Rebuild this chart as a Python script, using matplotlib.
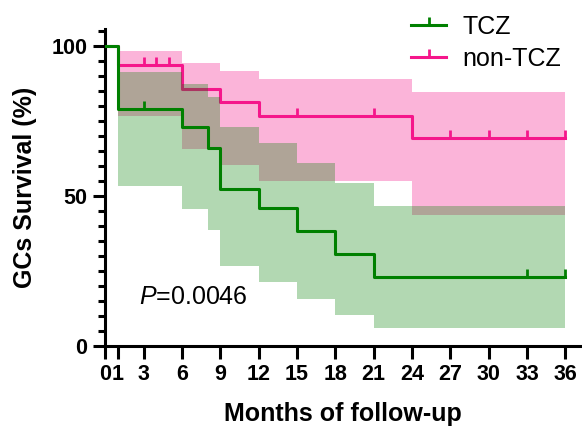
import numpy as np
import matplotlib
matplotlib.use("Agg")
import matplotlib.pyplot as plt
from matplotlib.ticker import MultipleLocator
from matplotlib.lines import Line2D

plt.rcParams['font.family'] = ['Liberation Sans', 'DejaVu Sans']
plt.rcParams['mathtext.fontset'] = 'custom'
plt.rcParams['mathtext.rm'] = 'Liberation Sans'
plt.rcParams['mathtext.it'] = 'Liberation Sans:italic'

# TCZ group: Kaplan-Meier steps (months, % surviving)
tcz_t = [0, 1, 6, 8, 9, 12, 15, 18, 21, 36]
tcz_s = [100, 79, 73, 66, 52.5, 46, 38.5, 30.7, 23, 23]
tcz_censor = [3, 33, 36]
# 95% CI band for TCZ
tcz_ci_t = [1, 6, 8, 9, 12, 15, 18, 21, 36]
tcz_lo = [53.3, 45.6, 38.7, 26.7, 21.4, 15.6, 10.3, 5.9, 5.9]
tcz_hi = [91.4, 87.5, 83.1, 73.1, 67.6, 61.1, 54.3, 46.7, 46.7]

# non-TCZ group
non_t = [0, 1, 6, 9, 12, 24, 36]
non_s = [100, 93.7, 85.6, 81.4, 76.8, 69.2, 69.2]
non_censor = [3, 4, 5, 15, 21, 27, 30, 33, 36]
non_ci_t = [1, 6, 9, 12, 24, 36]
non_lo = [76.7, 65.6, 60.3, 55.0, 43.7, 43.7]
non_hi = [98.3, 94.2, 91.8, 88.9, 84.8, 84.8]

x_ticks = [0, 1, 3, 6, 9, 12, 15, 18, 21, 24, 27, 30, 33, 36]
p_text = '$\\mathit{P}$=0.0046'

green = '#008000'
pink = '#F5168B'


def step_value(t, s, x):
    idx = np.searchsorted(t, x, side='right') - 1
    return np.asarray(s)[idx]


fig = plt.figure(figsize=(5.82, 4.28), dpi=100)
ax = fig.add_axes([0.1809, 0.1916, 0.8156, 0.7400])

# non-TCZ band and curve (drawn first)
ax.fill_between(non_ci_t, non_lo, non_hi, step='post', color=pink, alpha=0.32, lw=0, zorder=1)
ax.step(non_t, non_s, where='post', color=pink, lw=2.2, zorder=2)
ax.plot(non_censor, step_value(non_t, non_s, non_censor), ls='none', marker=2,
        ms=6, mew=2, color=pink, zorder=2)

# TCZ band on top, semi-transparent
ax.fill_between(tcz_ci_t, tcz_lo, tcz_hi, step='post', color=green, alpha=0.3, lw=0, zorder=3)
ax.step(tcz_t, tcz_s, where='post', color=green, lw=2.2, zorder=4)
ax.plot(tcz_censor, step_value(tcz_t, tcz_s, tcz_censor), ls='none', marker=2,
        ms=6, mew=2, color=green, zorder=4)

ax.set_xlim(0, 37.15)
ax.set_ylim(0, 105.6)
ax.set_xticks(x_ticks)
ax.set_yticks([0, 50, 100])
ax.yaxis.set_minor_locator(MultipleLocator(5))

for side in ['top', 'right']:
    ax.spines[side].set_visible(False)
for side in ['left', 'bottom']:
    ax.spines[side].set_linewidth(2.2)

ax.tick_params(axis='both', which='major', length=9, width=2.2, labelsize=15.5, pad=4)
ax.tick_params(axis='y', which='minor', length=5, width=2.2)
for lab in ax.get_xticklabels() + ax.get_yticklabels():
    lab.set_fontweight('bold')

ax.set_xlabel('Months of follow-up', fontsize=18, fontweight='bold', labelpad=12)
ax.set_ylabel('GCs Survival (%)', fontsize=18, fontweight='bold', labelpad=10)

ax.text(2.6, 16.4, p_text, fontsize=18, va='center', ha='left')

handles = [Line2D([], [], color=green, lw=2.2, marker=2, ms=6, mew=2),
           Line2D([], [], color=pink, lw=2.2, marker=2, ms=6, mew=2)]
fig.legend(handles, ['TCZ', 'non-TCZ'], loc='upper left', bbox_to_anchor=(411 / 582, 1 - 15 / 428),
           frameon=False, fontsize=18, handlelength=1.4, handletextpad=0.65,
           labelspacing=0.3, borderpad=0, borderaxespad=0, numpoints=1)

fig.savefig('out.png', dpi=100)
